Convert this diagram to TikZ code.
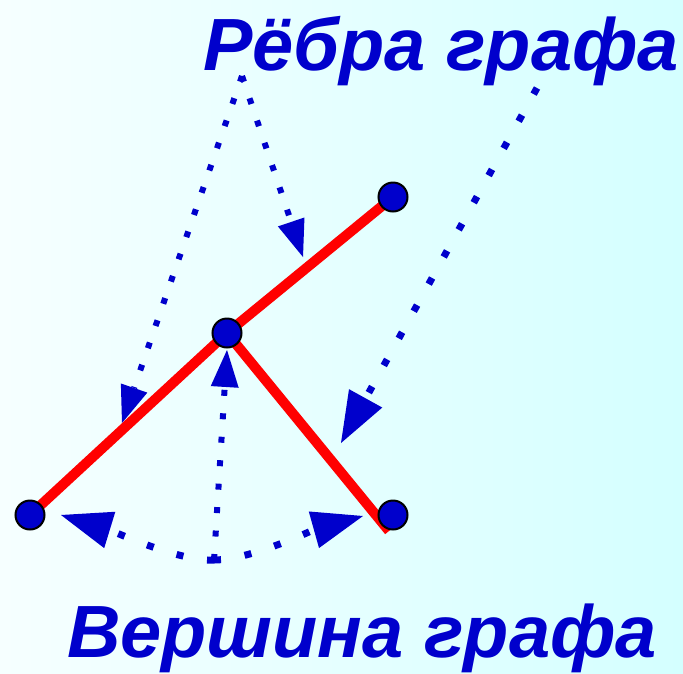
\documentclass[tikz,border=0pt]{standalone}
\usepackage{fontspec}
\setmainfont{Liberation Sans}
\usetikzlibrary{arrows.meta}
\definecolor{vblue}{RGB}{0,0,204}
\definecolor{bgleft}{RGB}{246,255,255}
\definecolor{bgright}{RGB}{212,255,255}
\begin{document}
\begin{tikzpicture}[x=1pt,y=-1pt,
  dotthin/.style={draw=vblue, line width=6pt, dash pattern=on 6pt off 17.5pt},
  dotthick/.style={draw=vblue, line width=7pt, dash pattern=on 7pt off 24pt},
  tipsmall/.style={-{Triangle[length=37pt,width=28pt,line width=0pt,fill=vblue]}},
  tipbig/.style={-{Triangle[length=51pt,width=38pt,line width=0pt,fill=vblue]}},
  redge/.style={draw=red, line width=10pt},
  vertex/.style={circle, fill=vblue, draw=black, line width=2pt, minimum size=29pt, inner sep=0pt},
  title/.style={font=\fontsize{74}{80}\selectfont\bfseries\itshape, text=vblue, inner sep=0pt}
]
\useasboundingbox (0,0) rectangle (683,673);
\fill[left color=bgleft, right color=bgright] (0,0) rectangle (683,673);

% texts
\node[title, anchor=base west] (ribs) at (203,70) {Рёбра графа};
\node[title, anchor=base west] (verts) at (67,657) {Вершина графа};

% vertices (positions)
\coordinate (pA) at (30,515);
\coordinate (pB) at (227,333);
\coordinate (pC) at (393,197);
\coordinate (pD) at (393,515);
\coordinate (dEnd) at (389,531);

% dotted arrow anchors
\coordinate (r1) at (242,76);
\coordinate (r2) at (537,88);
\coordinate (t1) at (303,257);
\coordinate (t2) at (122,423);
\coordinate (t3) at (341,443);
\coordinate (b0) at (214,560);
\coordinate (t4) at (227,350);
\coordinate (t5) at (61,515);
\coordinate (t6) at (363,516);

% dotted arrows
\draw[dotthin, tipsmall] (r1) -- (t1);
\draw[dotthin, tipsmall] (r1) -- (t2);
\draw[dotthick, tipbig] (r2) -- (t3);
\draw[dotthin, tipsmall] (b0) -- (t4);
\draw[dotthick, tipbig] (b0) .. controls (180,562) and (110,530) .. (t5);
\draw[dotthick, tipbig] (b0) .. controls (250,560) and (313,530) .. (t6);

% red edges
\draw[redge] (pA) -- (pB);
\draw[redge] (pB) -- (pC);
\draw[redge] (pB) -- (dEnd);

% vertices
\node[vertex] (vA) at (pA) {};
\node[vertex] (vB) at (pB) {};
\node[vertex] (vC) at (pC) {};
\node[vertex] (vD) at (pD) {};
\end{tikzpicture}
\end{document}
